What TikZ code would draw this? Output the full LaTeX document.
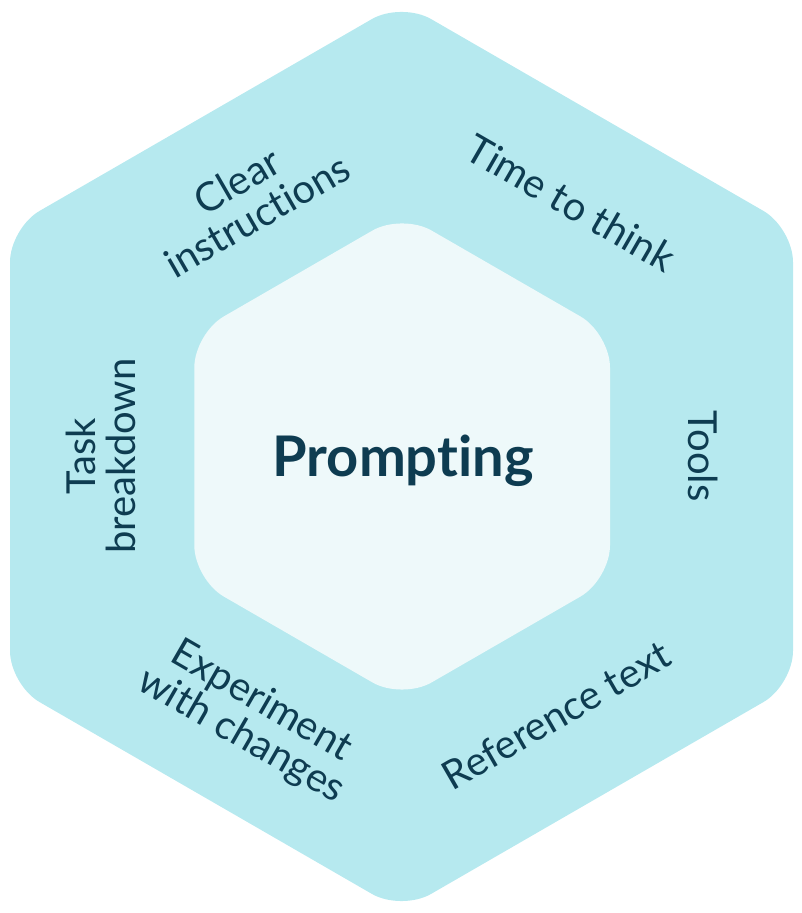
\documentclass[tikz,border=0pt]{standalone}
\usepackage{fontspec}
\setmainfont{Lato}[Ligatures={NoCommon,NoRequired,NoContextual}]
\definecolor{outerc}{HTML}{B6E9EF}
\definecolor{innerc}{HTML}{EEF9FA}
\definecolor{textc}{HTML}{0E3C51}
\begin{document}
\begin{tikzpicture}[x=1pt,y=1pt,
  lbl/.style={text=textc, font=\fontsize{40}{40}\selectfont, align=center, inner sep=0pt},
  title/.style={text=textc, font=\fontsize{56}{56}\selectfont\bfseries, inner sep=0pt}]
\useasboundingbox (0,0) rectangle (801,913);
\fill[outerc, rounded corners=34] (10,456.5) -- (10,685) -- (401.5,911) -- (793,685) -- (793,228) -- (401.5,2) -- (10,228) -- cycle;
\fill[innerc, rounded corners=34] (194.3,456.5) -- (194.3,579.5) -- (402,699.5) -- (610,579.5) -- (610,333.5) -- (402,213.5) -- (194.3,333.5) -- cycle;
\node[title, anchor=base] (center) at (403,436) {Prompting};
\node[lbl, rotate=30] (clear) at (247,715) {Clear\\instructions};
\node[lbl, rotate=-30] (time) at (571,710) {Time to think};
\node[lbl, rotate=-90] (tools) at (703,457) {Tools};
\node[lbl, rotate=30] (ref) at (556,198) {Reference text};
\node[lbl, rotate=-30] (exp) at (251,194) {Experiment\\with changes};
\node[lbl, rotate=90] (task) at (101,457) {Task\\breakdown};
\end{tikzpicture}
\end{document}
